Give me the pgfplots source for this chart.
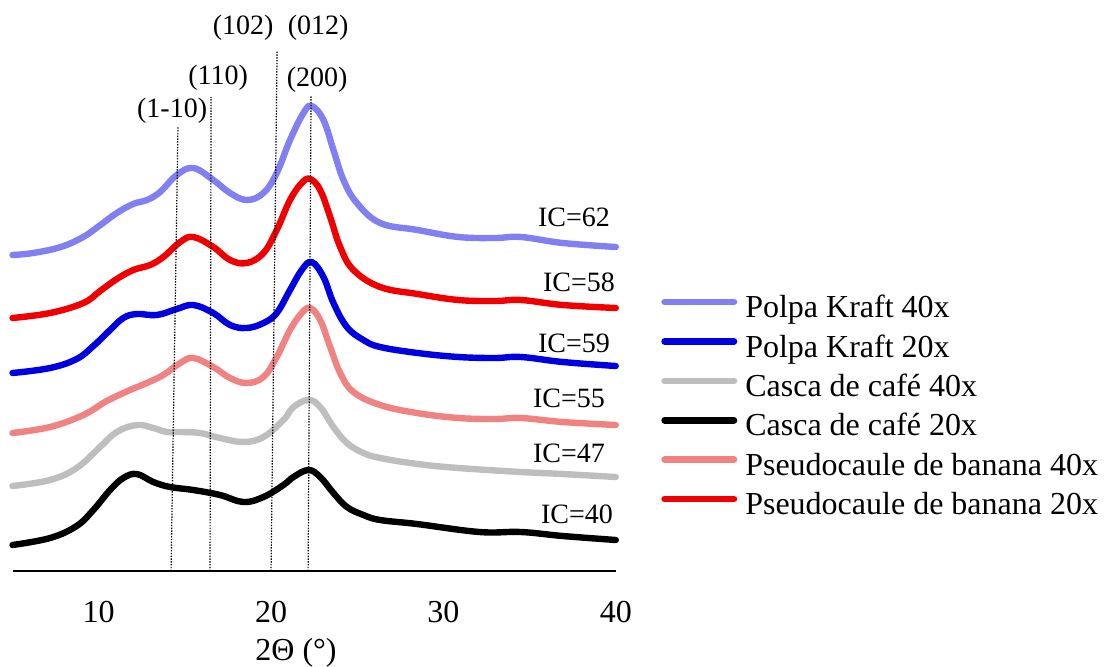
\documentclass[border=0pt]{standalone}
\usepackage{fontspec}
\setmainfont{Liberation Serif}
\usepackage{pgfplots}
\pgfplotsset{compat=1.18}
\definecolor{lblue}{RGB}{128,128,242}
\definecolor{dblue}{RGB}{0,0,225}
\definecolor{cgray}{RGB}{190,190,190}
\definecolor{pink}{RGB}{240,130,130}
\definecolor{cred}{RGB}{240,0,0}
\begin{document}
\begin{tikzpicture}
\path[use as bounding box] (0,0) rectangle (552.5pt,333pt);
\begin{axis}[
  at={(6.25pt,47.5pt)}, anchor=south west,
  scale only axis, width=301.65pt, height=285.5pt,
  xmin=5, xmax=40, ymin=0, ymax=571,
  axis x line=bottom, axis y line=none,
  axis line style={-, line width=1pt, black},
  xtick={10,20,30,40}, major tick length=0pt, ytick=\empty,
  /pgf/number format/assume math mode=true,
  xticklabel style={font=\fontsize{16}{19}\selectfont, anchor=north, inner sep=0pt, yshift=-15pt},
  clip=false,
  legend style={at={(axis cs:42.64,159.5)}, anchor=west, draw=none, fill=none,
    inner sep=0pt, outer sep=0pt, row sep=0pt, column sep=4pt,
    font=\fontsize{16}{19}\selectfont,
    nodes={inner sep=0pt, text height=12.2pt, text depth=7.5pt}},
  legend cell align=left,
  legend image code/.code={\draw[#1, line width=3.3pt, line cap=round] (1.65pt,5.5pt) -- (36.35pt,5.5pt);},
  cv/.style={line width=3.2pt, line cap=round, line join=round, /tikz/smooth, /tikz/tension=0.65},
]
\addplot[lblue, cv] coordinates {(5,316) (6.2,318) (7.8,324) (9.1,334) (10.1,346) (11.05,358) (12.0,367) (12.8,371) (13.56,379) (14.53,396) (15.49,403) (16.65,391) (17.62,378) (18.59,371) (19.56,378) (20.33,398) (21.1,431) (21.88,458) (22.36,465) (23.04,451) (23.62,421) (24.2,391) (24.98,368) (26.33,348) (28.5,341) (30.87,334) (33,333) (34.5,334) (36.92,328) (40,324)};
\addlegendentry{Polpa Kraft 40x}
\addplot[dblue, cv] coordinates {(5,198) (7.18,203) (8.72,212) (9.69,225) (10.66,241) (11.43,253) (12.21,257) (13.37,256) (14.53,262) (15.49,266) (16.65,258) (17.62,246) (18.59,243) (19.56,248) (20.33,258) (21.1,281) (21.78,301) (22.36,309) (23.04,294) (23.62,268) (24.4,244) (25.36,231) (26.33,224) (28.5,218) (30.87,214) (33,213) (34.5,214) (36.92,209) (40,205)};
\addlegendentry{Polpa Kraft 20x}
\addplot[cgray, cv] coordinates {(5,85) (7.18,91) (8.72,103) (10.08,124) (11.05,139) (12.21,146) (13.17,143) (13.95,139) (14.73,139) (15.88,138) (17.04,133) (18.4,129) (19.56,134) (20.72,151) (21.3,164) (22.17,171) (22.85,164) (23.62,144) (24.4,128) (25.36,118) (26.33,113) (28.5,107) (30.87,103) (34.5,99) (36.92,97) (40,94)};
\addlegendentry{Casca de café 40x}
\addplot[black, cv] coordinates {(5,26) (7.18,33) (8.72,45) (9.69,61) (10.66,81) (11.43,93) (12.21,97) (13.17,89) (14.14,84) (15.49,81) (17.04,76) (18.4,69) (19.56,74) (20.72,86) (21.3,94) (22.17,101) (22.85,94) (23.62,78) (24.4,64) (25.36,56) (26.33,51) (28.46,47) (32.09,39) (34.5,39) (36.92,35) (40,31)};
\addlegendentry{Casca de café 20x}
\addplot[pink, cv] coordinates {(5,138) (7.18,144) (9.11,156) (10.47,170) (11.82,181) (12.79,188) (13.75,196) (14.73,208) (15.49,213) (16.65,204) (17.62,193) (18.59,188) (19.56,194) (20.33,214) (21.1,241) (21.78,258) (22.27,263) (22.85,251) (23.43,224) (24.01,198) (24.78,179) (26.33,166) (28.46,158) (30.87,153) (33,152) (34.5,153) (36.92,149) (40,146)};
\addlegendentry{Pseudocaule de banana 40x}
\addplot[cred, cv] coordinates {(5,253) (7.18,258) (9.11,268) (10.08,280) (11.05,292) (12.01,301) (12.98,306) (13.75,314) (14.73,329) (15.49,334) (16.65,324) (17.62,311) (18.59,308) (19.56,318) (20.33,341) (21.1,371) (21.78,388) (22.27,392) (22.85,381) (23.43,354) (24.01,324) (24.78,301) (26.33,284) (28.5,277) (30.87,271) (33,270) (34.5,271) (36.92,266) (40,263)};
\addlegendentry{Pseudocaule de banana 20x}
% reference lines
\draw[line width=0.6pt, dash pattern=on 0.7pt off 0.7pt] (axis cs:14.2,0) -- (axis cs:14.6,444);
\draw[line width=0.6pt, dash pattern=on 0.7pt off 0.7pt] (axis cs:16.46,0) -- (axis cs:16.52,474);
\draw[line width=0.6pt, dash pattern=on 0.7pt off 0.7pt] (axis cs:20.0,0) -- (axis cs:20.35,520);
\draw[line width=0.6pt, dash pattern=on 0.7pt off 0.7pt] (axis cs:22.15,0) -- (axis cs:22.32,475);
% peak labels
\begin{scope}[every node/.style={font=\fontsize{14}{16}\selectfont, inner sep=0pt}]
\node at (axis cs:14.26,460) {(1-10)};
\node at (axis cs:16.93,493) {(110)};
\node at (axis cs:18.38,543) {(102)};
\node at (axis cs:22.73,543) {(012)};
\node at (axis cs:22.67,491) {(200)};
\node[anchor=east] at (axis cs:39.68,354) {IC=62};
\node[anchor=east] at (axis cs:39.97,289) {IC=58};
\node[anchor=east] at (axis cs:39.68,228) {IC=59};
\node[anchor=east] at (axis cs:39.39,173) {IC=55};
\node[anchor=east] at (axis cs:39.39,118) {IC=47};
\node[anchor=east] at (axis cs:39.85,57) {IC=40};
\end{scope}
\node[font=\fontsize{16}{19}\selectfont, inner sep=0pt] at (axis cs:21.45,-82) {2Θ (°)};
\end{axis}
\end{tikzpicture}
\end{document}
